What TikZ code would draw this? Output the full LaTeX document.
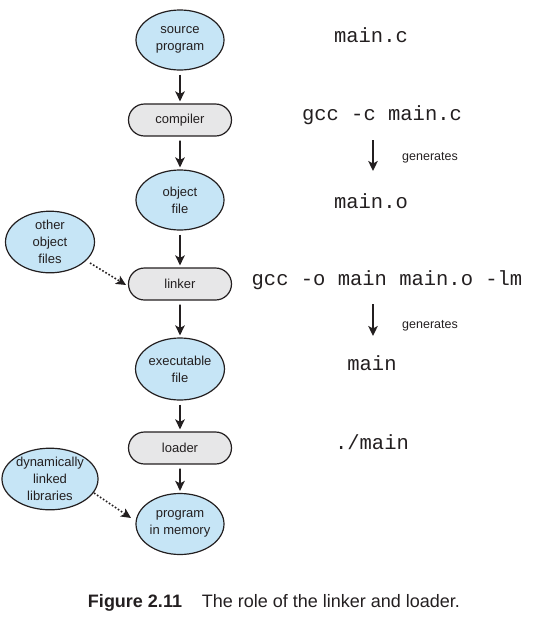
\documentclass[tikz,border=0pt]{standalone}
\usepackage{fontspec}
\setmainfont{Liberation Sans}
\setmonofont{Liberation Mono}
\usetikzlibrary{shapes.geometric,shapes.misc,arrows.meta}
\definecolor{ellfill}{RGB}{198,229,246}
\definecolor{boxfill}{RGB}{231,231,232}
\definecolor{ink}{RGB}{35,31,32}
\tikzset{
  ell/.style={ellipse, draw=ink, fill=ellfill, line width=1.2pt, minimum width=88pt, minimum height=60pt, inner sep=0pt, align=center, font=\fontsize{13}{17}\selectfont, text=ink},
  stadium/.style={rounded rectangle, draw=ink, fill=boxfill, line width=1.2pt, minimum width=103pt, minimum height=32pt, inner sep=0pt, font=\fontsize{13}{17}\selectfont, text=ink},
  code/.style={font=\fontsize{20.5}{24}\ttfamily, text=ink, inner sep=0pt},
  gen/.style={font=\fontsize{12.5}{14}\selectfont, text=ink, inner sep=0pt, anchor=west},
  tip/.style={-{Stealth[length=10pt,width=9.5pt,inset=2.5pt]}},
  arr/.style={tip, line width=1.7pt, draw=ink, shorten <=4pt, shorten >=2pt},
  darr/.style={tip, draw=ink, dotted, line width=1.6pt},
  sarr/.style={tip, line width=1.7pt, draw=ink},
}
\begin{document}
\begin{tikzpicture}[x=1pt,y=-1pt]
\useasboundingbox (0,0) rectangle (548,622);
\node[ell] (src) at (180,40) {source\\program};
\node[stadium] (comp) at (180,120) {compiler};
\node[ell] (obj) at (180,200) {object\\file};
\node[ell, minimum width=89pt] (oth) at (50,242) {other\\object\\files};
\node[stadium] (link) at (180,284) {linker};
\node[ell, minimum height=62pt] (exe) at (180,369) {executable\\file};
\node[stadium] (load) at (180,448) {loader};
\node[ell, minimum width=89pt, minimum height=56pt] (dyn) at (50,479) {dynamically\\linked\\libraries};
\node[ell, minimum height=61pt] (mem) at (180,524) {program\\in memory};

\draw[arr] (src) -- (comp);
\draw[arr] (comp) -- (obj);
\draw[arr] (obj) -- (link);
\draw[arr] (link) -- (exe);
\draw[arr] (exe) -- (load);
\draw[arr] (load) -- (mem);
\coordinate (othEnd) at (90,263);
\coordinate (linkIn) at (126,285);
\draw[darr] (othEnd) -- (linkIn);
\coordinate (dynEnd) at (94,493);
\coordinate (memIn) at (131,518);
\draw[darr] (dynEnd) -- (memIn);

\node[code] (t1) at (371,35) {main.c};
\node[code] (t2) at (382,115) {gcc -c main.c};
\coordinate (g1a) at (373,140);
\coordinate (g1b) at (373,171);
\draw[sarr] (g1a) -- (g1b);
\node[gen] (g1) at (402,158) {generates};
\node[code] (t3) at (371,201) {main.o};
\node[code] (t4) at (387,280) {gcc -o main main.o -lm};
\coordinate (g2a) at (373,304);
\coordinate (g2b) at (373,336);
\draw[sarr] (g2a) -- (g2b);
\node[gen] (g2) at (402,326) {generates};
\node[code] (t5) at (372,363) {main};
\node[code] (t6) at (372,442) {./main};

\node[font=\fontsize{18}{21}\selectfont, text=ink, inner sep=0pt] (cap) at (274,603) {\textbf{Figure 2.11}\hspace{1.1em}The role of the linker and loader.};
\end{tikzpicture}
\end{document}
